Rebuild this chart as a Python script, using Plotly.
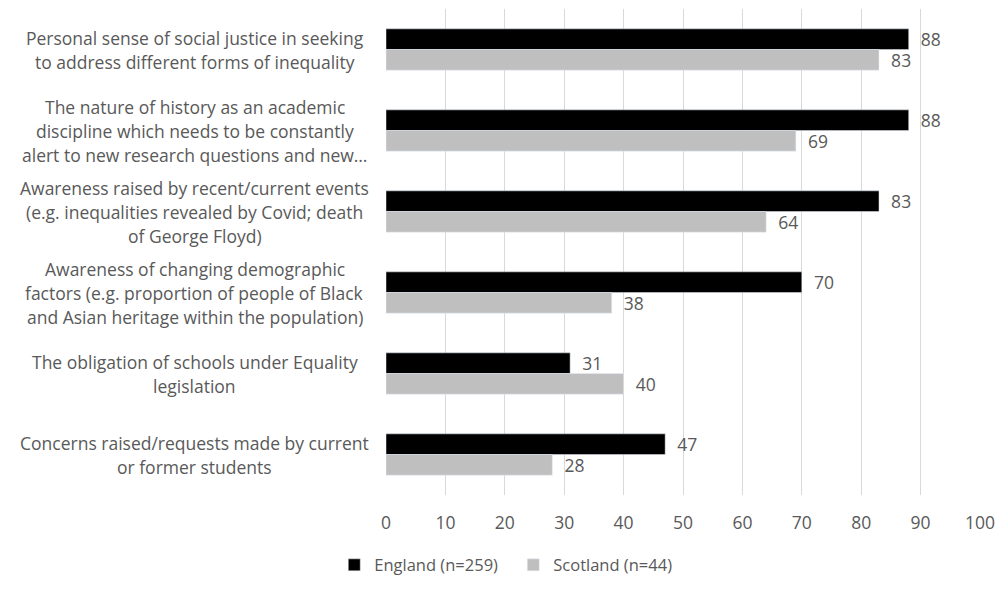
import plotly.graph_objects as go

categories = [
    "Personal sense of social justice in seeking<br>to address different forms of inequality",
    "The nature of history as an academic<br>discipline which needs to be constantly<br>alert to new research questions and new…",
    "Awareness raised by recent/current events<br>(e.g. inequalities revealed by Covid; death<br>of George Floyd)",
    "Awareness of changing demographic<br>factors (e.g. proportion of people of Black<br>and Asian heritage within the population)",
    "The obligation of schools under Equality<br>legislation",
    "Concerns raised/requests made by current<br>or former students",
]
england = [88, 88, 83, 70, 31, 47]
scotland = [83, 69, 64, 38, 40, 28]
x_ticks = [0, 10, 20, 30, 40, 50, 60, 70, 80, 90, 100]

FONT = "Open Sans"
GREY = "#595959"
FS = 17.5

W, H = 1004, 592
ML, MR, MT, MB = 386, 21, 9, 84

fig = go.Figure()
fig.add_trace(go.Bar(
    y=categories, x=england, orientation="h", name="England (n=259)",
    marker=dict(color="#000000"),
    text=[f"  {v}" for v in england], textposition="outside",
    constraintext="none",
    textfont=dict(family=FONT, size=FS, color=GREY), cliponaxis=False,
))
fig.add_trace(go.Bar(
    y=categories, x=scotland, orientation="h", name="Scotland (n=44)",
    marker=dict(color="#bfbfbf"),
    text=[f"  {v}" for v in scotland], textposition="outside",
    constraintext="none",
    textfont=dict(family=FONT, size=FS, color=GREY), cliponaxis=False,
))

# category labels, centered, one annotation per line
pw = W - ML - MR
label_x = (194 - ML) / pw
for cat in categories:
    lines = cat.split("<br>")
    n = len(lines)
    for i, line in enumerate(lines):
        off = (i - (n - 1) / 2) * 24
        fig.add_annotation(
            x=label_x, xref="paper", y=cat, yref="y",
            text=line, showarrow=False, xanchor="center", yanchor="middle",
            yshift=-off, font=dict(family=FONT, size=FS, color=GREY),
        )

fig.update_layout(
    width=W, height=H,
    margin=dict(l=ML, r=MR, t=MT, b=MB),
    paper_bgcolor="white", plot_bgcolor="white",
    barmode="group", bargap=0.49, bargroupgap=0,
    font=dict(family=FONT, size=FS, color=GREY),
    showlegend=True,
    legend=dict(orientation="h", x=(334 - ML) / pw, xanchor="left",
                y=-(580 - 508) / (H - MT - MB), yanchor="middle",
                font=dict(family=FONT, size=16.5, color=GREY),
                itemwidth=30, entrywidth=134, entrywidthmode="pixels",
                traceorder="normal"),
    xaxis=dict(range=[0, 100], tickvals=x_ticks, showgrid=True,
               gridcolor="#d9d9d9", gridwidth=1, zeroline=False,
               showline=False, ticks="", tickfont=dict(family=FONT, size=FS, color=GREY),
               ticklabelstandoff=15),
    yaxis=dict(autorange="reversed", showticklabels=False, showgrid=False,
               showline=False, zeroline=False, ticks=""),
)

fig.write_html("out.html")
